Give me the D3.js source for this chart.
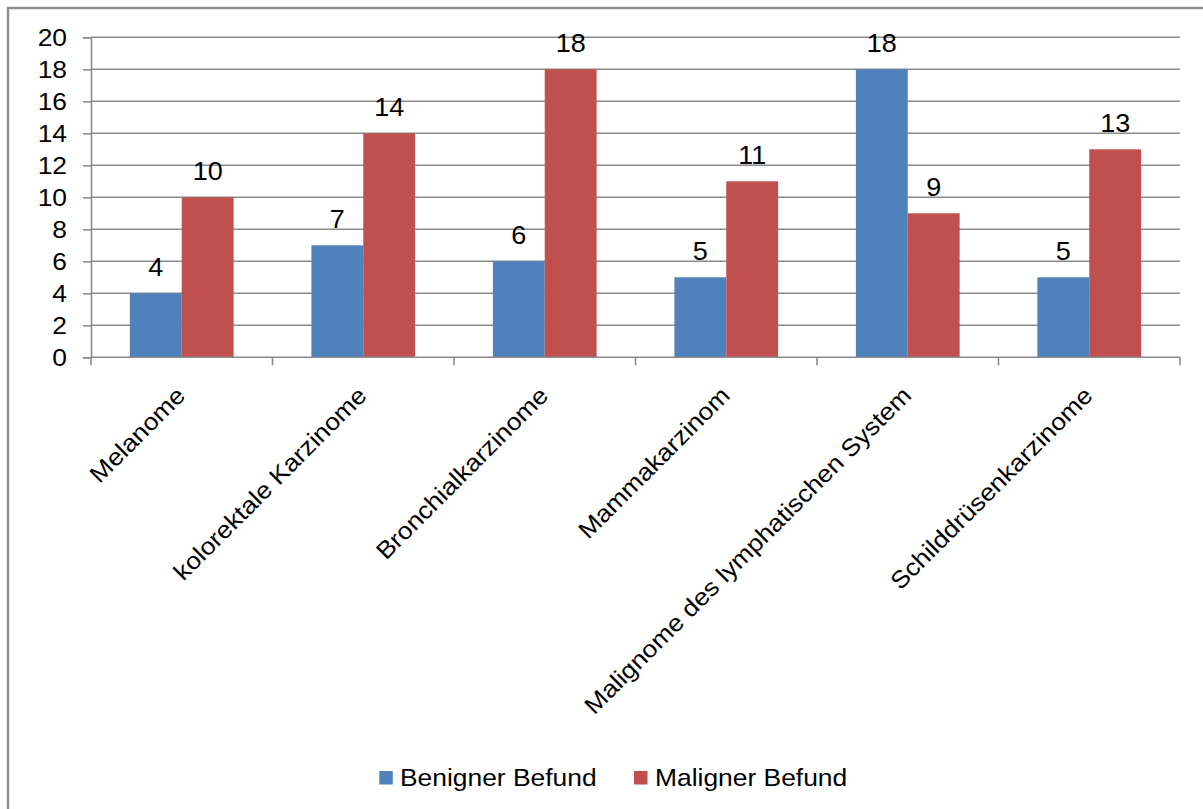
<!DOCTYPE html>
<html>
<head>
<meta charset="utf-8">
<script src="https://cdn.jsdelivr.net/npm/d3@7/dist/d3.min.js"></script>
<style>
  html, body { margin: 0; padding: 0; background: #fff; }
  svg { display: block; }
  text { font-family: "Liberation Sans", Arial, sans-serif; fill: #000; }
</style>
</head>
<body>
<svg id="chart" width="1203" height="809"></svg>
<script>
// Befunde je Tumorentität
const categories = [
  "Melanome",
  "kolorektale Karzinome",
  "Bronchialkarzinome",
  "Mammakarzinom",
  "Malignome des lymphatischen System",
  "Schilddrüsenkarzinome"
];
const seriesNames = ["Benigner Befund", "Maligner Befund"];
const benign = [4, 7, 6, 5, 18, 5];
const malign = [10, 14, 18, 11, 9, 13];
const yTicks = [0, 2, 4, 6, 8, 10, 12, 14, 16, 18, 20];
const colors = ["#4F81BD", "#C0504D"];

const svg = d3.select("#chart");
const plot = { left: 91, right: 1180, top: 37.3, bottom: 357.3 };
const axisColor = "#8a8a8a";
const wide = "scale(1.1,1)"; // slightly wide glyphs

// outer chart frame
svg.append("rect")
  .attr("x", 8).attr("y", 8)
  .attr("width", 1400).attr("height", 1000)
  .attr("fill", "none")
  .attr("stroke", "#8e8e8e")
  .attr("stroke-width", 2.5);

const x = d3.scaleBand().domain(categories).range([plot.left, plot.right]).padding(0);
const y = d3.scaleLinear().domain([0, 20]).range([plot.bottom, plot.top]);

// bars: gap width 150% of a bar
const barW = x.bandwidth() / 3.5;
const xs = d3.scaleBand().domain(seriesNames)
  .range([0.75 * barW, 2.75 * barW]).padding(0);

// horizontal gridlines
svg.append("g").selectAll("line")
  .data(yTicks.filter(d => d > 0))
  .join("line")
  .attr("x1", plot.left).attr("x2", plot.right)
  .attr("y1", d => y(d)).attr("y2", d => y(d))
  .attr("stroke", axisColor).attr("stroke-width", 1.6);

// y axis
const yAxis = d3.axisLeft(y).tickValues(yTicks).tickSize(8).tickFormat(d3.format("d"));
const gy = svg.append("g").attr("transform", `translate(${plot.left},0)`).call(yAxis);
gy.select(".domain").attr("stroke", axisColor).attr("stroke-width", 1.6);
gy.selectAll(".tick line").attr("stroke", axisColor).attr("stroke-width", 1.6);
gy.selectAll(".tick text")
  .attr("x", 0)
  .attr("transform", `translate(-24,0) ${wide}`)
  .style("font-size", "24px")
  .attr("fill", "#000").attr("dy", "0.36em");

// bars
const rows = categories.map((c, i) => ({ cat: c, vals: [benign[i], malign[i]] }));
const groups = svg.append("g").selectAll("g")
  .data(rows).join("g")
  .attr("transform", d => `translate(${x(d.cat)},0)`);

groups.selectAll("rect")
  .data(d => d.vals.map((v, k) => ({ name: seriesNames[k], v, k })))
  .join("rect")
  .attr("x", d => xs(d.name))
  .attr("width", xs.bandwidth())
  .attr("y", d => y(d.v))
  .attr("height", d => y(0) - y(d.v))
  .attr("fill", d => colors[d.k]);

// value labels
groups.selectAll("text.val")
  .data(d => d.vals.map((v, k) => ({ name: seriesNames[k], v, k })))
  .join("text")
  .attr("class", "val")
  .attr("transform", d => `translate(${xs(d.name) + xs.bandwidth() / 2},${y(d.v) - 17}) scale(1.04,1)`)
  .attr("text-anchor", "middle")
  .style("font-size", "26px")
  .text(d => d.v);

// x axis
const gx = svg.append("g").attr("transform", `translate(0,${plot.bottom})`);
gx.append("line")
  .attr("x1", plot.left).attr("x2", plot.right)
  .attr("stroke", axisColor).attr("stroke-width", 1.6);
const bounds = categories.map(c => x(c)).concat([plot.right]);
gx.selectAll("line.tick")
  .data(bounds).join("line")
  .attr("class", "tick")
  .attr("x1", d => d).attr("x2", d => d)
  .attr("y1", 0).attr("y2", 8)
  .attr("stroke", axisColor).attr("stroke-width", 1.6);

// rotated category labels
svg.append("g").selectAll("text")
  .data(categories).join("text")
  .attr("transform", d => `translate(${x(d) + x.bandwidth() / 2 + 5},397) rotate(-45) ${wide}`)
  .attr("text-anchor", "end")
  .style("font-size", "24px")
  .text(d => d);

// legend
const legendItems = [
  { name: seriesNames[0], color: colors[0], sx: 379.3, tx: 400 },
  { name: seriesNames[1], color: colors[1], sx: 634, tx: 655 }
];
const lg = svg.append("g");
lg.selectAll("rect").data(legendItems).join("rect")
  .attr("x", d => d.sx).attr("y", 771)
  .attr("width", 13.5).attr("height", 13.5)
  .attr("fill", d => d.color);
lg.selectAll("text").data(legendItems).join("text")
  .attr("transform", d => `translate(${d.tx},786) ${wide}`)
  .style("font-size", "24px")
  .text(d => d.name);
</script>
</body>
</html>
